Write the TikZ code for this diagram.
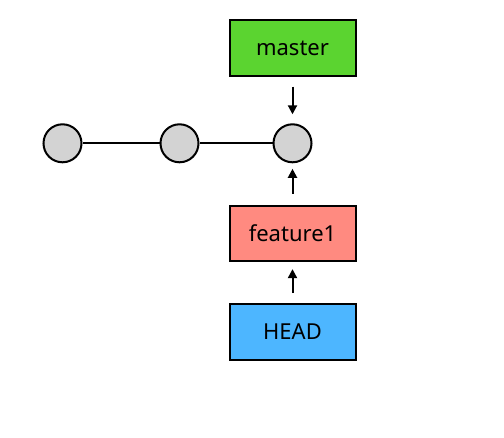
\documentclass[tikz,border=0pt]{standalone}
\usepackage{fontspec}
\setmainfont{Noto Sans}
\usetikzlibrary{arrows.meta}
\definecolor{mastercol}{RGB}{91,212,48}
\definecolor{featcol}{RGB}{255,138,128}
\definecolor{headcol}{RGB}{77,182,255}
\definecolor{commitcol}{RGB}{211,211,211}
\tikzset{
  refbox/.style={draw=black, line width=2pt, minimum width=126pt, minimum height=55.5pt, inner sep=0pt, font=\fontsize{22}{26}\selectfont},
  commit/.style={circle, draw=black, line width=2pt, fill=commitcol, minimum size=38pt, inner sep=0pt},
  link/.style={line width=2pt},
  ptr/.style={line width=2pt, -{Triangle[width=9pt,length=9pt]}},
}
\begin{document}
\begin{tikzpicture}[x=1pt,y=-1pt]
\useasboundingbox[fill=white] (0,0) rectangle (504,438);
\node[commit] (c1) at (62.5,143.3) {};
\node[commit] (c2) at (179.5,143.3) {};
\node[commit] (c3) at (292.5,143.3) {};
\node[refbox, fill=mastercol] (master) at (292.5,48) {master};
\node[refbox, fill=featcol] (feature) at (292.5,233.4) {feature1};
\node[refbox, fill=headcol] (head) at (292.5,332) {HEAD};
\draw[link] (c1) -- (c2);
\draw[link] (c2) -- (c3);
\draw[ptr, shorten <=10pt, shorten >=9pt] (master) -- (c3);
\draw[ptr, shorten <=11pt, shorten >=5.5pt] (feature) -- (c3);
\draw[ptr, shorten <=10pt, shorten >=7pt] (head) -- (feature);
\end{tikzpicture}
\end{document}
